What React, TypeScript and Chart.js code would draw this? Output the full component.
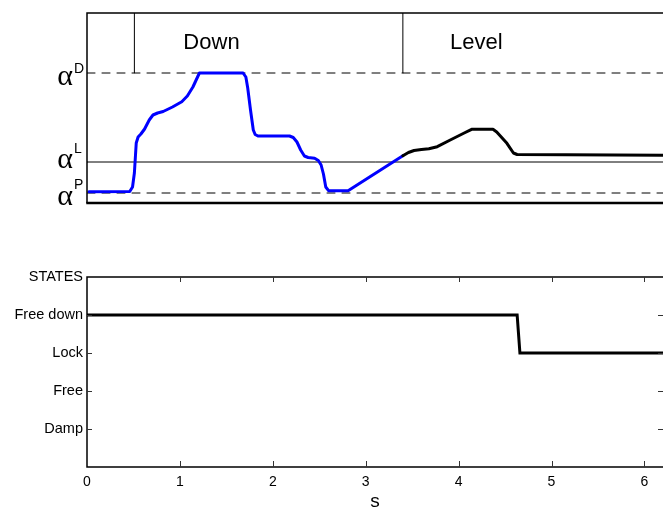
import React, { useEffect, useRef } from "react";
import { Chart, registerables } from "chart.js";

Chart.register(...registerables);

// ---------- data ----------
const TIME_MIN = 0;
const TIME_MAX = 6.2;
const ANGLE_MIN = 0;
const ANGLE_MAX = 19;

const alphaNames = ["D", "L", "P"];
const alphaValues = [13.0, 4.1, 1.0];

const phaseNames = ["Down", "Level"];
const phaseStart = [0.51, 3.4];
const phaseLabelTime = [1.34, 4.19];
const phaseLabelAngle = 16;

const downTime = [0.02, 0.46, 0.49, 0.51, 0.53, 0.55, 0.58, 0.62, 0.67, 0.71, 0.76, 0.82, 0.92, 1.02, 1.08, 1.14, 1.21, 1.68, 1.71, 1.73, 1.76, 1.79, 1.81, 1.84, 2.18, 2.22, 2.26, 2.3, 2.34, 2.38, 2.45, 2.49, 2.52, 2.545, 2.57, 2.6, 2.81, 3.4];
const downAngle = [1.13, 1.15, 1.6, 3.0, 6.0, 6.6, 6.9, 7.4, 8.3, 8.8, 9.0, 9.15, 9.6, 10.13, 10.7, 11.6, 13.0, 13.0, 12.6, 11.5, 9.3, 7.3, 6.85, 6.7, 6.7, 6.55, 6.1, 5.3, 4.7, 4.55, 4.47, 4.25, 3.8, 2.9, 1.6, 1.23, 1.23, 4.72];

const levelTime = [3.4, 3.46, 3.52, 3.6, 3.68, 3.77, 3.91, 4.06, 4.14, 4.37, 4.41, 4.52, 4.59, 4.63, 6.2];
const levelAngle = [4.72, 5.05, 5.25, 5.35, 5.42, 5.63, 6.3, 7.0, 7.37, 7.37, 7.1, 5.97, 5.0, 4.85, 4.78];

const stateNames = ["", "Damp", "Free", "Lock", "Free down", "STATES"];
const stateTime = [0, 4.63, 4.66, 6.2];
const stateValue = [4, 4, 3, 3];
const timeTickValues = [1, 2, 3, 4, 5, 6];
const xAxisTitle = "s";

// ---------- styles ----------
const SANS = '"Liberation Sans", Arial, Helvetica, sans-serif';
const SERIF = '"Liberation Serif", "Times New Roman", serif';
const BLUE = "#0000ff";
const DASH = [8, 7];
// per-label nudges for the alpha labels (alpha baseline, superscript baseline)
const alphaNudge = [
  [12, 0],
  [6, -9],
  [12, -4],
];

const zip = (xs: number[], ys: number[]) => xs.map((x, i) => ({ x, y: ys[i] }));

function TopChart() {
  const ref = useRef<HTMLCanvasElement | null>(null);
  useEffect(() => {
    const canvas = ref.current!;
    const hline = (v: number) => [
      { x: TIME_MIN, y: v },
      { x: TIME_MAX, y: v },
    ];
    const decor = {
      id: "topDecor",
      afterDatasetsDraw(chart: any) {
        const { ctx, chartArea: a, scales } = chart;
        const xs = scales.x;
        const ys = scales.y;
        ctx.save();
        ctx.strokeStyle = "#000";
        ctx.lineWidth = 1.5;
        ctx.beginPath();
        ctx.moveTo(a.left, a.bottom);
        ctx.lineTo(a.left, a.top);
        ctx.lineTo(a.right + 2, a.top);
        ctx.stroke();
        ctx.lineWidth = 2.5;
        ctx.beginPath();
        ctx.moveTo(a.left - 0.75, a.bottom);
        ctx.lineTo(a.right + 2, a.bottom);
        ctx.stroke();
        ctx.fillStyle = "#000";
        alphaNames.forEach((n, i) => {
          const py = ys.getPixelForValue(alphaValues[i]);
          ctx.font = `30px ${SERIF}`;
          ctx.textAlign = "right";
          ctx.textBaseline = "alphabetic";
          ctx.fillText("\u03b1", a.left - 14, py + alphaNudge[i][0]);
          ctx.font = `14px ${SANS}`;
          ctx.textAlign = "left";
          ctx.fillText(n, a.left - 13, py + alphaNudge[i][1]);
        });
        ctx.font = `22px ${SANS}`;
        ctx.textAlign = "center";
        ctx.textBaseline = "middle";
        phaseNames.forEach((n, i) => {
          ctx.fillText(n, xs.getPixelForValue(phaseLabelTime[i]), ys.getPixelForValue(phaseLabelAngle));
        });
        ctx.restore();
      },
    };
    const chart = new Chart(canvas, {
      type: "line",
      data: {
        datasets: [
          { data: zip(downTime, downAngle), borderColor: BLUE, borderWidth: 3, order: 1 },
          { data: zip(levelTime, levelAngle), borderColor: "#000", borderWidth: 3, order: 0 },
          { data: hline(alphaValues[0]), borderColor: "#000", borderWidth: 1, borderDash: DASH, order: 5 },
          { data: hline(alphaValues[1]), borderColor: "#000", borderWidth: 1, order: 5 },
          { data: hline(alphaValues[2]), borderColor: "#000", borderWidth: 1, borderDash: DASH, order: 5 },
          ...phaseStart.map((t) => ({
            data: [
              { x: t, y: alphaValues[0] },
              { x: t, y: ANGLE_MAX },
            ],
            borderColor: "#000",
            borderWidth: 1,
            order: 5,
          })),
        ],
      },
      options: {
        responsive: false,
        devicePixelRatio: 1,
        animation: false,
        events: [],
        layout: { padding: { left: 87, top: 13, right: 0, bottom: 12 } },
        elements: { point: { radius: 0 }, line: { fill: false, tension: 0, borderJoinStyle: "round", borderCapStyle: "round" } },
        plugins: { legend: { display: false }, tooltip: { enabled: false } },
        scales: {
          x: { type: "linear", min: TIME_MIN, max: TIME_MAX, display: false },
          y: { type: "linear", min: ANGLE_MIN, max: ANGLE_MAX, display: false },
        },
      },
      plugins: [decor],
    } as any);
    return () => chart.destroy();
  }, []);
  return (
    <canvas
      ref={ref}
      width={663}
      height={215}
      style={{ position: "absolute", left: 0, top: 0, width: 663, height: 215 }}
    />
  );
}

function BottomChart() {
  const ref = useRef<HTMLCanvasElement | null>(null);
  useEffect(() => {
    const canvas = ref.current!;
    const decor = {
      id: "bottomDecor",
      afterDatasetsDraw(chart: any) {
        const { ctx, chartArea: a, scales } = chart;
        const xs = scales.x;
        const ys = scales.y;
        ctx.save();
        ctx.strokeStyle = "#000";
        ctx.lineWidth = 1.5;
        ctx.beginPath();
        ctx.moveTo(a.right + 2, a.top);
        ctx.lineTo(a.left, a.top);
        ctx.lineTo(a.left, a.bottom);
        ctx.lineTo(a.right + 2, a.bottom);
        ctx.stroke();
        ctx.lineWidth = 1;
        ctx.strokeStyle = "#333";
        ctx.beginPath();
        timeTickValues.forEach((t) => {
          const px = Math.round(xs.getPixelForValue(t)) + 0.5;
          ctx.moveTo(px, a.top);
          ctx.lineTo(px, a.top + 5);
          ctx.moveTo(px, a.bottom);
          ctx.lineTo(px, a.bottom - 6);
        });
        for (let v = 1; v < stateNames.length - 1; v++) {
          const py = Math.round(ys.getPixelForValue(v)) + 0.5;
          ctx.moveTo(a.left, py);
          ctx.lineTo(a.left + 5, py);
          ctx.moveTo(a.right, py);
          ctx.lineTo(a.right - 5, py);
        }
        ctx.stroke();
        ctx.fillStyle = "#000";
        ctx.font = `19px ${SANS}`;
        ctx.textAlign = "center";
        ctx.textBaseline = "alphabetic";
        ctx.fillText(xAxisTitle, (a.left + a.right) / 2, chart.height - 1);
        ctx.restore();
      },
    };
    const chart = new Chart(canvas, {
      type: "line",
      data: {
        datasets: [
          {
            data: zip(stateTime, stateValue),
            borderColor: "#000",
            borderWidth: 3,
          },
        ],
      },
      options: {
        responsive: false,
        devicePixelRatio: 1,
        animation: false,
        events: [],
        layout: { padding: { left: 0, top: 17, right: 0, bottom: 0 } },
        elements: { point: { radius: 0 }, line: { fill: false, tension: 0 } },
        plugins: { legend: { display: false }, tooltip: { enabled: false } },
        scales: {
          x: {
            type: "linear",
            min: TIME_MIN,
            max: TIME_MAX,
            afterFit: (s: any) => {
              s.height = 41;
            },
            grid: { display: false, drawTicks: false },
            border: { display: false },
            ticks: {
              stepSize: 1,
              includeBounds: false,
              autoSkip: false,
              maxRotation: 0,
              padding: 7,
              color: "#000",
              font: { family: SANS, size: 14 },
            },
          },
          y: {
            type: "linear",
            min: 0,
            max: stateNames.length - 1,
            afterFit: (s: any) => {
              s.width = 87;
            },
            grid: { display: false, drawTicks: false },
            border: { display: false },
            ticks: {
              stepSize: 1,
              autoSkip: false,
              padding: 4,
              color: "#000",
              font: { family: SANS, size: 14.5 },
              callback: (v: any) => stateNames[Math.round(Number(v))] ?? "",
            },
          },
        },
      },
      plugins: [decor],
    } as any);
    return () => chart.destroy();
  }, []);
  return (
    <canvas
      ref={ref}
      width={663}
      height={248}
      style={{ position: "absolute", left: 0, top: 260, width: 663, height: 248 }}
    />
  );
}

export default function App() {
  return (
    <div
      style={{
        position: "fixed",
        left: 0,
        top: 0,
        width: 663,
        height: 508,
        overflow: "hidden",
        background: "#fff",
      }}
    >
      <TopChart />
      <BottomChart />
    </div>
  );
}
